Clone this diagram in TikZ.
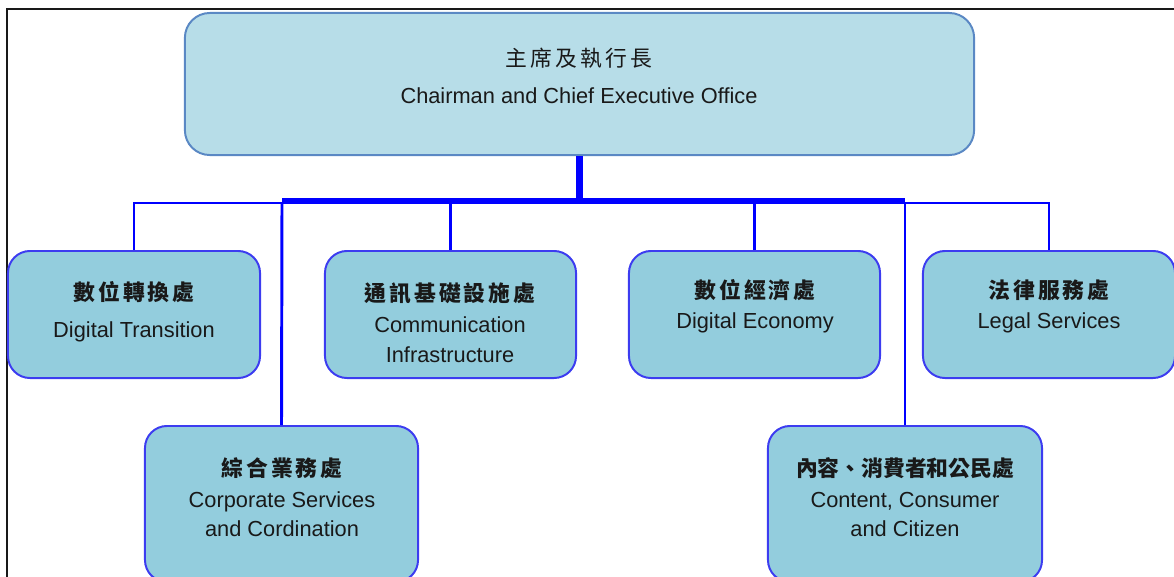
\documentclass[tikz,border=0pt]{standalone}
\usepackage{fontspec}
\setmainfont{Liberation Sans}
\newfontfamily\cjk[LetterSpace=14]{Noto Sans CJK TC}
\newfontfamily\cjktight[LetterSpace=0]{Noto Sans CJK TC}
\definecolor{topfill}{HTML}{B7DDE8}
\definecolor{topline}{HTML}{5A88C4}
\definecolor{unitfill}{HTML}{93CDDD}
\definecolor{unitline}{HTML}{3C3CF0}
\definecolor{linkblue}{HTML}{0000FF}

\begin{document}
\begin{tikzpicture}[x=0.025cm, y=-0.025cm,
        topbox/.style={rectangle, rounded corners=0.62cm, draw=topline, fill=topfill, line width=1.4pt, minimum width=19.725cm, minimum height=3.55cm},
        unitbox/.style={rectangle, rounded corners=0.55cm, draw=unitline, fill=unitfill, line width=1.4pt, minimum width=6.3cm, minimum height=3.175cm},
        boxtext/.style={align=center, text=black!90, font=\fontsize{15.5}{21.3}\selectfont},
        link/.style={draw=linkblue, line width=2.1pt},
        bus/.style={draw=linkblue, line width=4.3pt}]
        \useasboundingbox (0,0) rectangle (1174,577);
        \draw[line width=1.8pt, black!90] (7,577) -- (7,9) -- (1174,9);

        % boxes
        \node [topbox] (ceo) at (579.5,84) {};
        \node [unitbox] (dt) at (134,314.5) {};
        \node [unitbox, minimum width=6.275cm] (comm) at (450.5,314.5) {};
        \node [unitbox, minimum width=6.275cm] (econ) at (754.5,314.5) {};
        \node [unitbox] (legal) at (1049,314.5) {};
        \node [unitbox, minimum width=6.825cm, minimum height=3.9cm] (corp) at (281.5,504) {};
        \node [unitbox, minimum width=6.85cm, minimum height=3.9cm] (content) at (905,504) {};

        % texts
        \node [boxtext] (ceotxt) at (579,76) {{\cjk 主席及執行長}\\[5pt] Chairman and Chief Executive Office};
        \node [boxtext] (dttxt) at (134,312) {{\cjk\bfseries 數位轉換處}\\[5pt] Digital Transition};
        \node [boxtext] (commtxt) at (450,323) {{\cjk\bfseries 通訊基礎設施處}\\[1pt] Communication\\ Infrastructure};
        \node [boxtext] (econtxt) at (755,306) {{\cjk\bfseries 數位經濟處}\\ Digital Economy};
        \node [boxtext] (legaltxt) at (1049,306) {{\cjk\bfseries 法律服務處}\\ Legal Services};
        \node [boxtext] (corptxt) at (282,497) {{\cjk\bfseries 綜合業務處}\\[1pt] Corporate Services\\[-1pt] and Cordination};
        \node [boxtext] (contenttxt) at (905,497) {{\cjktight\bfseries 內容、消費者和公民處}\\[1pt] Content, Consumer\\[-1pt] and Citizen};

        % connectors
        \coordinate (busl) at (282,201);
        \coordinate (busr) at (905,201);
        \coordinate (jl) at (282,203);
        \coordinate (jr) at (905,203);
        \draw[bus] (ceo.south) -- (ceo.south |- busl);
        \draw[link] (dt.north) |- (jl);
        \draw[link] (legal.north) |- (jr);
        \draw[link] (jl) -- (corp.north);
        \draw[link] (jr) -- (content.north);
        \draw[link] (comm.north) -- (comm.north |- busl);
        \draw[link] (econ.north) -- (econ.north |- busl);
        \draw[bus] (busl) -- (busr);
    \end{tikzpicture}
\end{document}
